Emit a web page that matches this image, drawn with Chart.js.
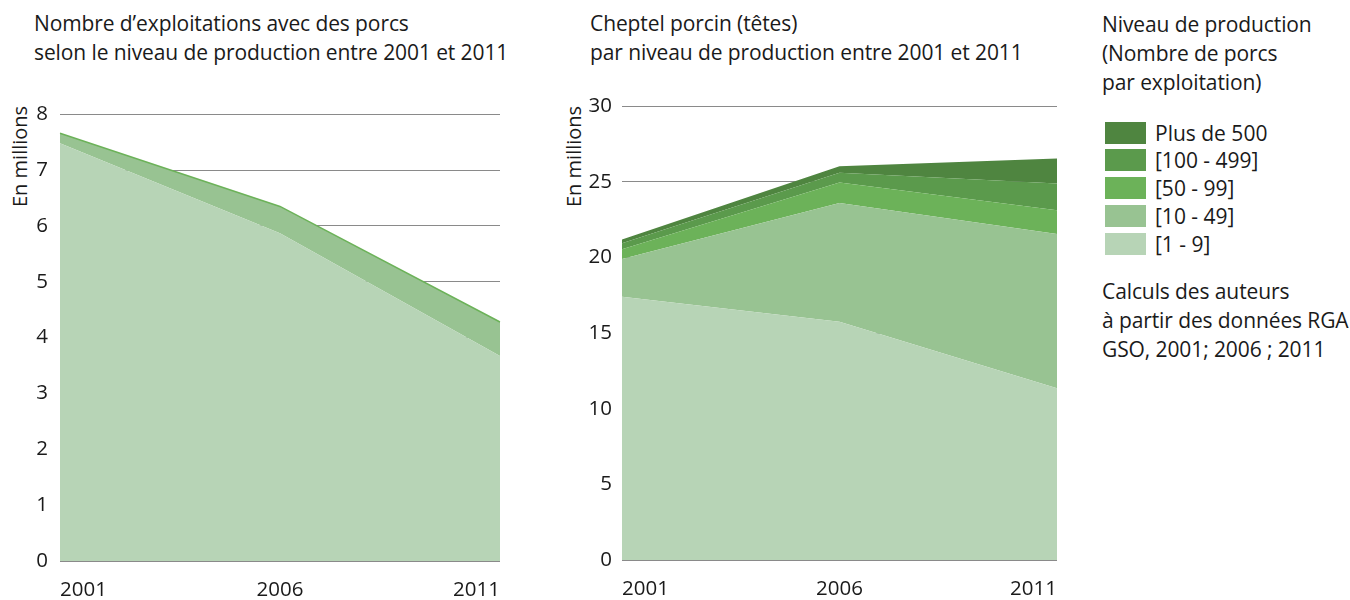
<!DOCTYPE html>
<html>
<head>
<meta charset="utf-8">
<script src="https://cdn.jsdelivr.net/npm/chart.js@4.4.0/dist/chart.umd.min.js"></script>
<style>
  body { margin: 0; width: 1350px; height: 600px; overflow: hidden; background: #fff;
         font-family: "Open Sans", sans-serif; color: #1a1a1a; }
  .box { position: absolute; }
  .title { position: absolute; font-size: 21px; line-height: 29px; white-space: nowrap; letter-spacing: -0.1px; }
  .ytitle { position: absolute; font-size: 20px; white-space: nowrap; transform: rotate(-90deg); transform-origin: left top; }
  .leg { position: absolute; left: 1105px; font-size: 21px; line-height: 22px; white-space: nowrap; }
  .leg span { display: inline-block; width: 41px; height: 22px; vertical-align: top; margin-right: 9px; }
</style>
</head>
<body>
<div class="title" style="left:34px; top:9px;">Nombre d’exploitations avec des porcs<br>selon le niveau de production entre 2001 et 2011</div>
<div class="title" style="left:590px; top:9px;">Cheptel porcin (têtes)<br>par niveau de production entre 2001 et 2011</div>
<div class="title" style="left:1102px; top:10px;">Niveau de production<br>(Nombre de porcs<br>par exploitation)</div>
<div id="legend"></div>
<div class="title" style="left:1102px; top:277px;">Calculs des auteurs<br>à partir des données RGA<br>GSO, 2001; 2006 ; 2011</div>
<div class="ytitle" style="left:6px; top:207px;">En millions</div>
<div class="ytitle" style="left:560px; top:207px;">En millions</div>

<div class="box" style="left:0px; top:90px; width:520px; height:520px;"><canvas id="graph1"></canvas></div>
<div class="box" style="left:560px; top:84px; width:520px; height:526px;"><canvas id="graph2"></canvas></div>

<script>
const years = ['2001', '2006', '2011'];
const levels = ['[1 - 9]', '[10 - 49]', '[50 - 99]', '[100 - 499]', 'Plus de 500'];
const colors = ['#b7d4b6', '#98c392', '#6cb259', '#5b9a4c', '#4f8540'];

// nombre d'exploitations (millions)
const farms_1_9 = [7.48, 5.87, 3.67];
const farms_10plus = [0.18, 0.48, 0.61];
const farmTicks = [0, 1, 2, 3, 4, 5, 6, 7, 8];

// cheptel (millions de tetes)
const herd_1_9 = [17.4, 15.75, 11.35];
const herd_10_49 = [2.5, 7.85, 10.2];
const herd_50_99 = [0.65, 1.36, 1.58];
const herd_100_499 = [0.4, 0.64, 1.77];
const herd_500 = [0.25, 0.44, 1.65];
const herdTicks = [0, 5, 10, 15, 20, 25, 30];

const font = { family: '"Open Sans", sans-serif', size: 20.5 };

// legende html
const legendDiv = document.getElementById('legend');
const tops = [122, 149, 177, 205, 233];
for (let i = 0; i < levels.length; i++) {
  const idx = levels.length - 1 - i;
  const row = document.createElement('div');
  row.className = 'leg';
  row.style.top = tops[i] + 'px';
  row.innerHTML = '<span style="background:' + colors[idx] + '"></span>' + levels[idx];
  legendDiv.appendChild(row);
}

function makeScales(ticks, yWidth, yPad) {
  return {
    x: {
      grid: { display: false, drawTicks: false },
      border: { display: false },
      ticks: { color: '#1a1a1a', font: font, padding: 17, align: 'inner', maxRotation: 0 },
      afterFit: s => { s.height = 41; },
    },
    y: {
      stacked: true,
      min: ticks[0],
      max: ticks[ticks.length - 1],
      afterBuildTicks: s => { s.ticks = ticks.map(v => ({ value: v })); },
      grid: { color: '#8a8a8a', lineWidth: 1, drawTicks: false },
      border: { display: false },
      ticks: { color: '#1a1a1a', font: font, padding: yPad },
      afterFit: s => { s.width = yWidth; },
    },
  };
}

const graph1 = new Chart(document.getElementById('graph1'), {
  type: 'line',
  data: {
    labels: years,
    datasets: [
      { label: levels[0], data: farms_1_9, backgroundColor: colors[0], fill: 'origin', borderWidth: 0, pointRadius: 0 },
      { label: '[10 et plus]', data: farms_10plus, backgroundColor: colors[1], fill: '-1', borderColor: '#6cb259', borderWidth: 1.5, pointRadius: 0 },
    ],
  },
  options: {
    responsive: true,
    maintainAspectRatio: false,
    animation: false,
    layout: { padding: { top: 24, bottom: 8, right: 20, left: 0 } },
    plugins: { legend: { display: false }, tooltip: { enabled: false } },
    scales: makeScales(farmTicks, 60, 12),
  },
});

const herdData = [herd_1_9, herd_10_49, herd_50_99, herd_100_499, herd_500];
const graph2 = new Chart(document.getElementById('graph2'), {
  type: 'line',
  data: {
    labels: years,
    datasets: herdData.map((d, i) => ({
      label: levels[i],
      data: d,
      backgroundColor: colors[i],
      fill: i === 0 ? 'origin' : '-1',
      borderWidth: 0,
      pointRadius: 0,
    })),
  },
  options: {
    responsive: true,
    maintainAspectRatio: false,
    animation: false,
    layout: { padding: { top: 16, bottom: 9, right: 23, left: 0 } },
    plugins: { legend: { display: false }, tooltip: { enabled: false } },
    scales: makeScales(herdTicks, 62, 10),
  },
});
</script>
</body>
</html>
